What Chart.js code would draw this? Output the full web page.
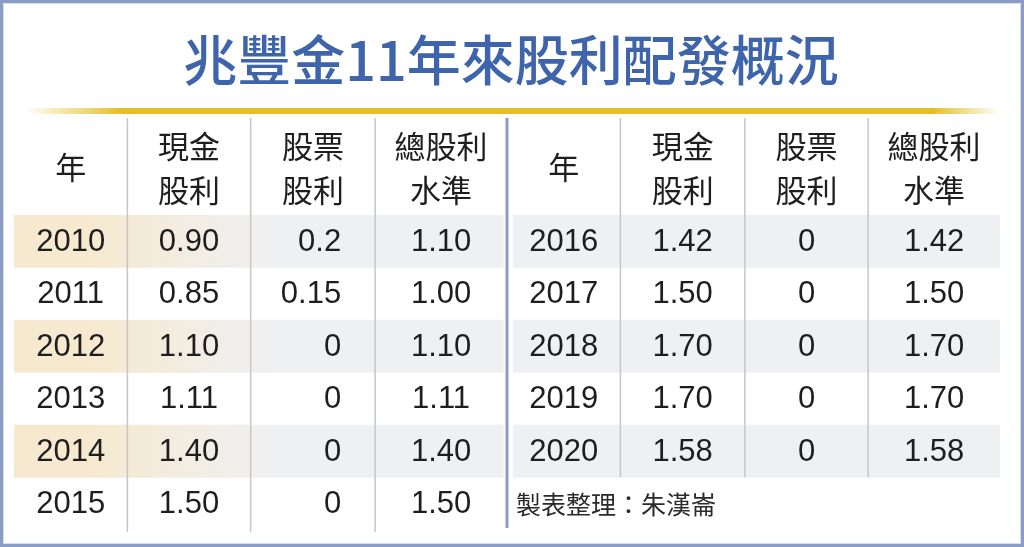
<!DOCTYPE html>
<html>
<head>
<meta charset="utf-8">
<script src="https://cdn.jsdelivr.net/npm/chart.js@4/dist/chart.umd.min.js"></script>
<style>
html,body{margin:0;padding:0;background:#fff;}
canvas{display:block;}
</style>
</head>
<body>
<canvas id="c" width="1024" height="547"></canvas>
<script>
// ---- data ----
const titleText = '兆豐金11年來股利配發概況';
const headers = [['年'], ['現金', '股利'], ['股票', '股利'], ['總股利', '水準']];
const years = [2010, 2011, 2012, 2013, 2014, 2015, 2016, 2017, 2018, 2019, 2020];
const cashDividend = [0.90, 0.85, 1.10, 1.11, 1.40, 1.50, 1.42, 1.50, 1.70, 1.70, 1.58];
const stockDividend = [0.2, 0.15, 0, 0, 0, 0, 0, 0, 0, 0, 0];
const totalDividend = [1.10, 1.00, 1.10, 1.11, 1.40, 1.50, 1.42, 1.50, 1.70, 1.70, 1.58];
const sourceText = '製表整理：朱漢崙';

// ---- layout / style ----
const rowsPerHalf = 6;
const colEdges = [0, 0.92, 1.92, 2.93, 4, 4.92, 5.93, 6.93, 8];
const rowLabels = years.slice(0, rowsPerHalf).map(String);
const shadedRows = rowLabels.map((_, i) => i % 2 === 0);
const CJK = '"Noto Sans CJK TC", "Noto Sans CJK SC", sans-serif';
const CJK_MED = '"Noto Sans CJK TC Medium", "Noto Sans TC Medium", "Noto Sans CJK TC", sans-serif';
const NUM = '"Liberation Sans", Arial, sans-serif';
const textColor = '#1e1e1e';

const leftShade = shadedRows.map(s => s ? [0, 3.97] : null);
const rightShade = shadedRows.map((s, i) => (s && i + rowsPerHalf < years.length) ? [4.05, 8] : null);

const tablePlugin = {
  id: 'tablePlugin',
  beforeDraw(chart) {
    const ctx = chart.ctx;
    ctx.save();
    ctx.fillStyle = '#fff';
    ctx.fillRect(0, 0, chart.width, chart.height);
    ctx.restore();
  },
  afterDatasetsDraw(chart) {
    const ctx = chart.ctx;
    const xs = chart.scales.x, ys = chart.scales.y;
    const area = chart.chartArea;
    const cx = c => xs.getPixelForValue((colEdges[c] + colEdges[c + 1]) / 2);
    ctx.save();

    // title
    ctx.fillStyle = '#3e64ab';
    ctx.font = '400 54px ' + CJK_MED;
    ctx.textAlign = 'center';
    ctx.textBaseline = 'middle';
    ctx.fillText(titleText, chart.width / 2 - 1, 60);

    // gold rule
    const gx0 = 25, gx1 = 1000;
    const g = ctx.createLinearGradient(gx0, 0, gx1, 0);
    g.addColorStop(0, 'rgba(228,190,40,0)');
    g.addColorStop(0.1, 'rgba(228,190,40,1)');
    g.addColorStop(0.93, 'rgba(228,190,40,1)');
    g.addColorStop(1, 'rgba(228,190,40,0)');
    ctx.fillStyle = g;
    ctx.fillRect(gx0, 108, gx1 - gx0, 6);

    // vertical separators
    const lineTop = area.top - 97;
    const rightBottom = ys.getPixelForValue(years.length - rowsPerHalf - 1) + 26;
    ctx.lineWidth = 1.5;
    ctx.strokeStyle = '#c6c6c6';
    [1, 2, 3, 5, 6, 7].forEach(c => {
      const x = xs.getPixelForValue(colEdges[c]);
      ctx.beginPath();
      ctx.moveTo(x, lineTop);
      ctx.lineTo(x, c < 4 ? area.bottom + 2 : rightBottom);
      ctx.stroke();
    });
    ctx.lineWidth = 3;
    ctx.strokeStyle = '#8e9bc9';
    const mx = xs.getPixelForValue(colEdges[4]);
    ctx.beginPath();
    ctx.moveTo(mx, lineTop);
    ctx.lineTo(mx, area.bottom - 2);
    ctx.stroke();

    // headers
    ctx.fillStyle = textColor;
    ctx.font = '400 31px ' + CJK;
    ctx.textAlign = 'center';
    for (let half = 0; half < 2; half++) {
      headers.forEach((h, j) => {
        const x = cx(half * 4 + j);
        if (h.length === 1) {
          ctx.fillText(h[0], x, area.top - 48);
        } else {
          ctx.fillText(h[0], x, area.top - 69);
          ctx.fillText(h[1], x, area.top - 25);
        }
      });
    }

    // cells
    ctx.font = '31px ' + NUM;
    years.forEach((yr, k) => {
      const half = k < rowsPerHalf ? 0 : 1;
      const row = k - half * rowsPerHalf;
      const y = ys.getPixelForValue(row) + 1;
      const base = half * 4;
      ctx.textAlign = 'center';
      ctx.fillText(String(yr), cx(base), y);
      ctx.fillText(cashDividend[k].toFixed(2), cx(base + 1), y);
      if (half === 0) {
        ctx.textAlign = 'right';
        ctx.fillText(String(stockDividend[k]), xs.getPixelForValue(colEdges[3]) - 34, y);
        ctx.textAlign = 'center';
      } else {
        ctx.fillText(String(stockDividend[k]), cx(base + 2), y);
      }
      ctx.fillText(totalDividend[k].toFixed(2), cx(base + 3), y);
    });

    // source
    ctx.font = '400 25px ' + CJK;
    ctx.fillStyle = '#2a2a2a';
    ctx.textAlign = 'left';
    ctx.fillText(sourceText, mx + 9, ys.getPixelForValue(rowsPerHalf - 1) + 1);

    // outer frame
    ctx.lineWidth = 3;
    ctx.strokeStyle = '#8a9bc4';
    ctx.strokeRect(1.5, 1.5, chart.width - 3, chart.height - 3);
    ctx.lineWidth = 1;
    ctx.strokeStyle = '#d5dcec';
    ctx.strokeRect(3.5, 3.5, chart.width - 7, chart.height - 7);
    ctx.restore();
  }
};

new Chart(document.getElementById('c'), {
  type: 'bar',
  data: {
    labels: rowLabels,
    datasets: [
      {
        data: leftShade,
        backgroundColor(context) {
          const chart = context.chart;
          const xs = chart.scales.x;
          if (!chart.chartArea || !xs) return '#eef0f2';
          const a = xs.getPixelForValue(0.6), b = xs.getPixelForValue(2.1);
          if (!isFinite(a) || !isFinite(b)) return '#eef0f2';
          const gr = chart.ctx.createLinearGradient(a, 0, b, 0);
          gr.addColorStop(0, '#f6e9cf');
          gr.addColorStop(1, '#eff0f2');
          return gr;
        },
        borderWidth: 0
      },
      {
        data: rightShade,
        backgroundColor: '#eef0f3',
        borderWidth: 0
      }
    ]
  },
  options: {
    indexAxis: 'y',
    responsive: false,
    animation: false,
    devicePixelRatio: 1,
    layout: { padding: { left: 14, right: 24, top: 215, bottom: 17 } },
    datasets: { bar: { barPercentage: 1, categoryPercentage: 1, grouped: false } },
    scales: {
      x: { type: 'linear', min: 0, max: 8, display: false },
      y: { type: 'category', display: false, offset: true }
    },
    plugins: {
      legend: { display: false },
      tooltip: { enabled: false },
      title: { display: false }
    }
  },
  plugins: [tablePlugin]
});
</script>
</body>
</html>
